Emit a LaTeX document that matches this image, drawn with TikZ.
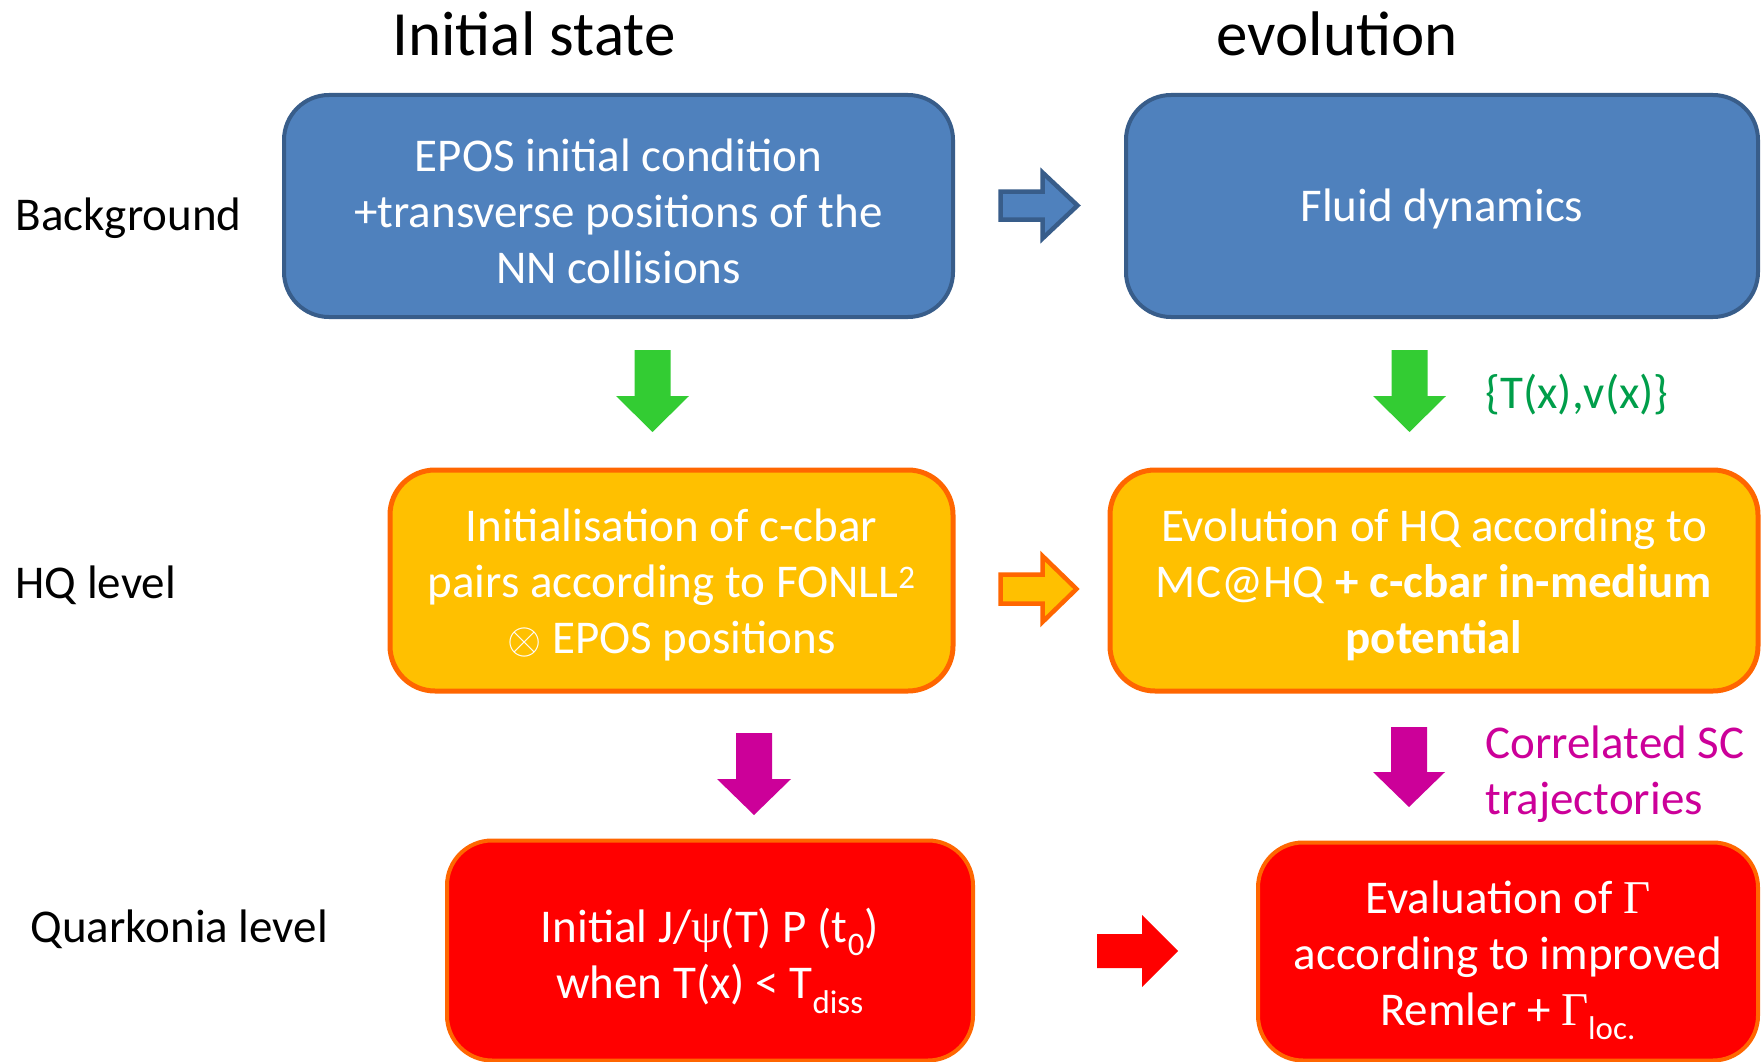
\documentclass[tikz,border=0pt]{standalone}
\usepackage{fontspec}
\usepackage{graphicx}
\setmainfont{Carlito}
\newfontfamily\grk{Liberation Serif}

\definecolor{bgblue}{HTML}{4F81BD}
\definecolor{bgblueline}{HTML}{385D8A}
\definecolor{hqamber}{HTML}{FFC000}
\definecolor{hqline}{HTML}{FF6600}
\definecolor{qred}{HTML}{FF0000}
\definecolor{arrgreen}{HTML}{33CC33}
\definecolor{txtgreen}{RGB}{0,158,74}
\definecolor{magenta2}{HTML}{CC0099}

% block arrow: style, x, y, angle, length, shaft width, head width, head length
\newcommand\blockarrow[8]{%
  \draw[#1,shift={(#2,#3)},rotate=#4]
    (0,{-#6/2}) -- ({#5-#8},{-#6/2}) -- ({#5-#8},{-#7/2}) -- (#5,0)
    -- ({#5-#8},{#7/2}) -- ({#5-#8},{#6/2}) -- (0,{#6/2}) -- cycle;}
% large thin circled times for the box text
\newcommand\circtimes{{\fontsize{10}{12}\selectfont\scalebox{4.4}{$\otimes$}}}

\begin{document}
\begin{tikzpicture}[x=1pt,y=-1pt,
  bodyfont/.style={font=\fontsize{47}{56}\selectfont},
  headfont/.style={font=\fontsize{63}{75}\selectfont},
  stagebox/.style={rounded corners=45pt, inner sep=0pt},
  boxtext/.style={text=white, align=center, bodyfont},
  bluebox/.style={stagebox, fill=bgblue, draw=bgblueline, line width=4pt},
  amberbox/.style={stagebox, fill=hqamber, draw=hqline, line width=5pt},
  redbox/.style={stagebox, fill=qred, draw=hqline, line width=4pt},
  rowlabel/.style={anchor=base west, bodyfont, text=black},
  heading/.style={anchor=base, headfont, text=black},
  bluearr/.style={fill=bgblue, draw=bgblueline, line width=4.5pt, line join=miter},
  amberarr/.style={fill=hqamber, draw=hqline, line width=4.5pt, line join=miter},
  redarr/.style={fill=qred, draw=none},
  greenarr/.style={fill=arrgreen, draw=none},
  magarr/.style={fill=magenta2, draw=none}
]
\clip (0,0) rectangle (1762,1062);
\fill[white] (0,0) rectangle (1762,1062);

% column headings
\node[heading] (hinit) at (534,56) {Initial state};
\node[heading] (hevol) at (1337,56) {evolution};

% row labels
\node[rowlabel] (lbg) at (12,230) {Background};
\node[rowlabel] (lhq) at (12,598) {HQ level};
\node[rowlabel] (lqk) at (27,942) {Quarkonia level};

% background row
\node[bluebox, minimum width=669pt, minimum height=222pt] (epos) at (618.5,206) {};
\node[boxtext] (eposT) at (618.5,211)
  {EPOS initial condition\\+transverse positions of the\\NN collisions};
\node[bluebox, minimum width=632pt, minimum height=222pt] (fluid) at (1442,206) {};
\node[boxtext] (fluidT) at (1442,209) {Fluid dynamics};

% heavy-quark row
\node[amberbox, minimum width=563pt, minimum height=221pt] (init) at (671.5,580.5) {};
\node[boxtext] (initT) at (671.5,584.5)
  {Initialisation of c-cbar\\pairs according to FONLL\textsuperscript{2}\\\circtimes{} EPOS positions};
\node[amberbox, minimum width=648pt, minimum height=221pt] (evo) at (1434,580.5) {};
\node[boxtext] (evoT) at (1434,584.5)
  {Evolution of HQ according to\\MC@HQ \textbf{+ c-cbar in-medium}\\\textbf{potential}};

% quarkonia row
\node[redbox, minimum width=526pt, minimum height=220pt] (jpsi) at (710,950.5) {};
\node[boxtext] (jpsiT) at (710,961)
  {Initial J/{\grk ψ}(T) P (t\textsubscript{0})\\when T(x) < T\textsubscript{diss}};
\node[redbox, minimum width=500pt, minimum height=218pt] (gam) at (1508,951.5) {};
\node[boxtext] (gamT) at (1508,960)
  {Evaluation of {\grk Γ}\\according to improved\\Remler + {\grk Γ}\textsubscript{loc.}};

% flow arrows
\blockarrow{bluearr}{1000.5}{205.5}{0}{77}{28}{66}{35}
\blockarrow{amberarr}{1000.5}{589}{0}{76}{29}{66}{34}
\blockarrow{redarr}{1097}{951}{0}{81}{34}{72}{36}
\blockarrow{greenarr}{652.5}{350}{-90}{82}{36}{73}{36}
\blockarrow{greenarr}{1409.5}{350}{-90}{82}{36}{73}{36}
\blockarrow{magarr}{754}{733}{-90}{82}{36}{74}{36}
\blockarrow{magarr}{1409}{727}{-90}{80}{36}{72}{35}

% arrow annotations
\node[anchor=west, bodyfont, text=txtgreen] (fieldlbl) at (1482,395) {\{T(x),v(x)\}};
\node[anchor=west, bodyfont, text=magenta2, align=left] (trajlbl) at (1482,774)
  {Correlated SC\\trajectories};
\end{tikzpicture}
\end{document}
